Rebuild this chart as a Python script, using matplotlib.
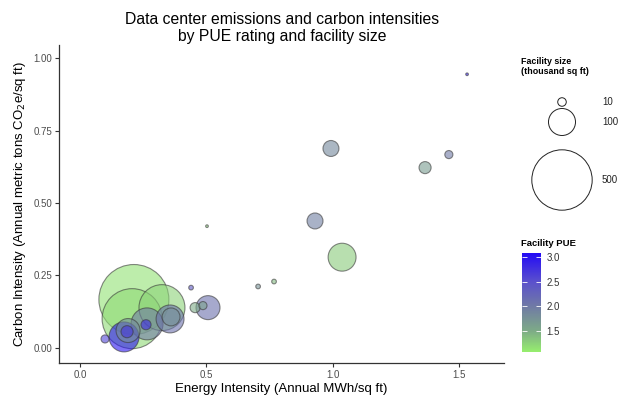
import numpy as np
import matplotlib
matplotlib.use("Agg")
import matplotlib.pyplot as plt
from matplotlib.colors import LinearSegmentedColormap, Normalize

plt.rcParams['font.family'] = ['Liberation Sans', 'DejaVu Sans']

# data
energy_intensity = [0.213, 0.206, 0.324, 0.174, 0.099, 0.190, 0.186, 0.265, 0.261,
                    0.356, 0.360, 0.506, 0.455, 0.486, 0.439, 0.502, 0.704, 0.767,
                    0.929, 1.036, 0.992, 1.364, 1.458, 1.530]
carbon_intensity = [0.167, 0.101, 0.139, 0.038, 0.031, 0.060, 0.056, 0.083, 0.080,
                    0.100, 0.107, 0.139, 0.139, 0.146, 0.208, 0.420, 0.212, 0.229,
                    0.438, 0.313, 0.688, 0.622, 0.667, 0.944]
facility_size = [672, 494, 290, 123, 9, 79, 20, 140, 14,
                 107, 44, 79, 14, 9, 3, 1, 3, 3,
                 35, 107, 35, 20, 9, 1]
facility_pue = [1.15, 1.20, 1.25, 3.00, 2.60, 1.80, 2.70, 2.00, 2.80,
                2.10, 1.80, 2.10, 1.50, 1.60, 2.40, 1.30, 1.75, 1.40,
                1.95, 1.30, 1.85, 1.65, 2.00, 2.90]

legend_sizes = [10, 100, 500]
pue_ticks = [1.5, 2.0, 2.5, 3.0]
pue_min, pue_max = 1.07, 3.08

# gradient colours as seen on the reference colour bar
grad_vals = [1.07, 1.5, 2.0, 2.5, 3.08]
grad_cols = ['#96ee6e', '#7daa87', '#707aa5', '#5a50cd', '#230af5']
cmap = LinearSegmentedColormap.from_list(
    "pue", [((v - pue_min) / (pue_max - pue_min), col) for v, col in zip(grad_vals, grad_cols)])
norm = Normalize(pue_min, pue_max)


def size_to_s(size):
    # area scaled circles, radius in pixels ~ 1.35*sqrt(size)
    d_px = 2 * 1.35 * np.sqrt(np.asarray(size, float))
    return (d_px * 72 / 100) ** 2


W, H = 624, 399
fig = plt.figure(figsize=(W / 100, H / 100), dpi=100)
ax = fig.add_axes([59 / W, 36 / H, (504 - 59) / W, (363 - 45) / H])

order = np.argsort(facility_size)[::-1]
x = np.array(energy_intensity)[order]
y = np.array(carbon_intensity)[order]
s = size_to_s(np.array(facility_size)[order])
c = np.array(facility_pue)[order]
ax.scatter(x, y, s=s, c=c, cmap=cmap, norm=norm, alpha=0.6,
           edgecolors='#3a3a3a', linewidths=0.8, clip_on=False)

ax.set_xlim(-0.083, 1.676)
ax.set_ylim(-0.052, 1.045)
ax.set_xticks([0, 0.5, 1.0, 1.5])
ax.set_xticklabels(["0.0", "0.5", "1.0", "1.5"])
ax.set_yticks([0, 0.25, 0.5, 0.75, 1.0])
ax.set_yticklabels(["0.00", "0.25", "0.50", "0.75", "1.00"])
for sp in ['top', 'right']:
    ax.spines[sp].set_visible(False)
for sp in ['left', 'bottom']:
    ax.spines[sp].set_color('#333333')
    ax.spines[sp].set_linewidth(0.9)
ax.tick_params(direction='out', length=3, width=0.8, color='#333333',
               labelsize=7, labelcolor='#4d4d4d', pad=2)
ax.set_xlabel("Energy Intensity (Annual MWh/sq ft)", fontsize=9.5, labelpad=2)
ax.set_ylabel("Carbon Intensity (Annual metric tons CO$_2$e/sq ft)", fontsize=9.5, labelpad=4)

fig.text(282 / W, 1 - 28 / H, "Data center emissions and carbon intensities\nby PUE rating and facility size",
         ha='center', va='center', fontsize=11.3, linespacing=1.1)

# size legend, laid out in pixel coordinates
lax = fig.add_axes([0, 0, 1, 1], facecolor='none')
lax.set_xlim(0, W)
lax.set_ylim(H, 0)
lax.axis('off')
lax.text(521, 57, "Facility size\n(thousand sq ft)", fontsize=6.4, fontweight='bold',
         ha='left', va='top', linespacing=1.1)
key_y = [102, 122, 180]
lax.scatter([562] * len(legend_sizes), key_y, s=size_to_s(legend_sizes),
            facecolors='none', edgecolors='#222222', linewidths=0.7)
for ky, lab in zip(key_y, legend_sizes):
    lax.text(602, ky, str(lab), fontsize=7, ha='left', va='center', color='#222222')
lax.text(521, 244, "Facility PUE", fontsize=6.8, fontweight='bold', ha='left', va='center')

# colour bar
cax = fig.add_axes([522 / W, 1 - 352 / H, 19 / W, 99 / H])
cb = fig.colorbar(plt.cm.ScalarMappable(norm=norm, cmap=cmap), cax=cax, ticks=pue_ticks)
cb.outline.set_visible(False)
cax.yaxis.set_ticks_position('both')
cax.tick_params(direction='in', length=3.5, width=0.6, color='white',
                labelsize=7, labelcolor='#333333', pad=4, labelleft=False, labelright=True)
cax.set_yticklabels([f"{t:.1f}" for t in pue_ticks])

fig.savefig("out.png", dpi=100)
